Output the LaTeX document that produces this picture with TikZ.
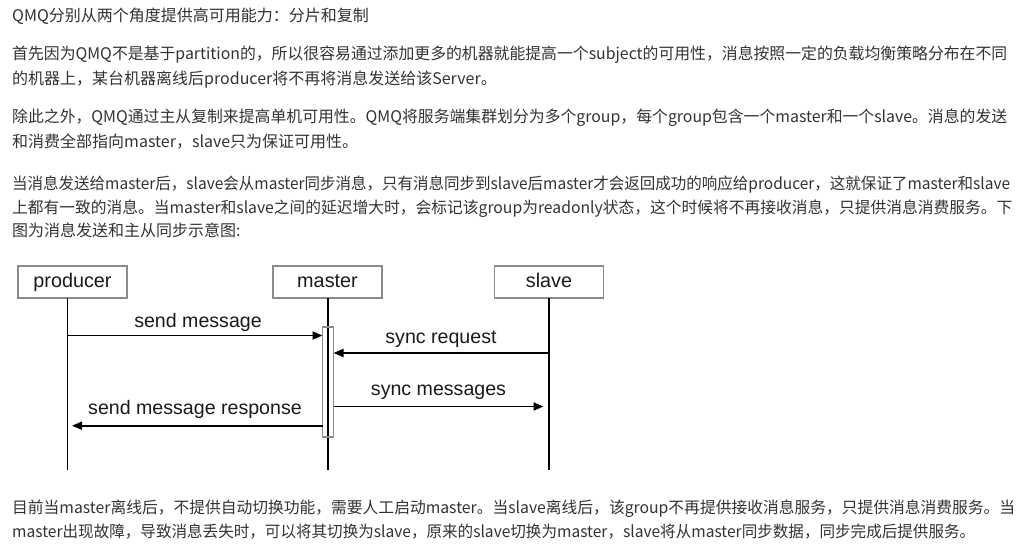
\documentclass[tikz,border=0pt]{standalone}
\usepackage{fontspec}
\setmainfont{Noto Sans CJK SC}
\newfontfamily\dfont{Liberation Sans}
\usetikzlibrary{arrows.meta}
\definecolor{txt}{HTML}{333333}
\definecolor{boxc}{HTML}{8C8C8C}
\definecolor{lbl}{HTML}{1A1A1A}
\newcommand{\fitw}[2]{\resizebox{#1}{\height}{#2}}
\begin{document}
\begin{tikzpicture}[x=1pt,y=-1pt,
  para/.style={anchor=base west,inner sep=0pt,text=txt,font=\fontsize{16}{20}\selectfont},
  actor/.style={draw=boxc,line width=1.6pt,minimum width=109pt,minimum height=32pt,inner sep=0pt,text height=14.5pt,text depth=4.5pt,text=lbl,font=\dfont\fontsize{19.8}{22}\selectfont},
  life/.style={black,line width=1.8pt},
  msg/.style={black,line width=1.8pt,-{Triangle[length=10pt,width=8pt]}},
  mlabel/.style={anchor=base,inner sep=0pt,text=lbl,font=\dfont\fontsize{19.6}{22}\selectfont},
  act/.style={draw=boxc,line width=1.4pt}]
\fill[white] (0,0) rectangle (1024,544);
\useasboundingbox (0,0) rectangle (1024,544);
% text paragraphs
\node[para] (t1) at (12,21) {QMQ分别从两个角度提供高可用能力：分片和复制};
\node[para] (p2a) at (12,59.5) {\fitw{995pt}{首先因为QMQ不是基于partition的，所以很容易通过添加更多的机器就能提高一个subject的可用性，消息按照一定的负载均衡策略分布在不同}};
\node[para] (p2b) at (12,84.5) {的机器上，某台机器离线后producer将不再将消息发送给该Server。};
\node[para] (p3a) at (12,122.5) {\fitw{995pt}{除此之外，QMQ通过主从复制来提高单机可用性。QMQ将服务端集群划分为多个group，每个group包含一个master和一个slave。消息的发送}};
\node[para] (p3b) at (12,147) {和消费全部指向master，slave只为保证可用性。};
\node[para] (p4a) at (12,189) {\fitw{998pt}{当消息发送给master后，slave会从master同步消息，只有消息同步到slave后master才会返回成功的响应给producer，这就保证了master和slave}};
\node[para] (p4b) at (12,213) {\fitw{1000pt}{上都有一致的消息。当master和slave之间的延迟增大时，会标记该group为readonly状态，这个时候将不再接收消息，只提供消息消费服务。下}};
\node[para] (p4c) at (12,236.5) {图为消息发送和主从同步示意图:};
\node[para] (b1) at (12,513) {\fitw{1003pt}{目前当master离线后，不提供自动切换功能，需要人工启动master。当slave离线后，该group不再提供接收消息服务，只提供消息消费服务。当}};
\node[para] (b2) at (12,537) {\fitw{963pt}{master出现故障，导致消息丢失时，可以将其切换为slave，原来的slave切换为master，slave将从master同步数据，同步完成后提供服务。}};
% actors
\node[actor] (producer) at (72.5,282) {producer};
\node[actor] (master) at (327.5,282) {master};
\node[actor] (slave) at (549,282) {slave};
% lifeline ends
\coordinate (pTop) at (67.5,298);
\coordinate (pBot) at (67.5,470);
\coordinate (mTop) at (328,298);
\coordinate (mBot) at (328,470);
\coordinate (sTop) at (549,298);
\coordinate (sBot) at (549,470);
\draw[life] (pTop) -- (pBot);
\draw[life] (mTop) -- (mBot);
\draw[life] (sTop) -- (sBot);
% activation
\node[act,minimum width=11pt,minimum height=110pt,inner sep=0pt] (actv) at (328,382) {};
% messages
\coordinate (m1s) at (67.5,335.5);
\coordinate (m1e) at (322.5,335.5);
\draw[msg] (m1s) -- (m1e);
\node[mlabel] (l1) at (198,327.5) {send message};
\coordinate (m2s) at (549,353);
\coordinate (m2e) at (333.5,353);
\draw[msg] (m2s) -- (m2e);
\node[mlabel] (l2) at (441,343.3) {sync request};
\coordinate (m3s) at (333.5,406.5);
\coordinate (m3e) at (543.5,406.5);
\draw[msg] (m3s) -- (m3e);
\node[mlabel] (l3) at (438.5,395.5) {sync messages};
\coordinate (m4s) at (322.5,425.7);
\coordinate (m4e) at (72,425.7);
\draw[msg] (m4s) -- (m4e);
\node[mlabel] (l4) at (195,414) {send message response};
\end{tikzpicture}
\end{document}
